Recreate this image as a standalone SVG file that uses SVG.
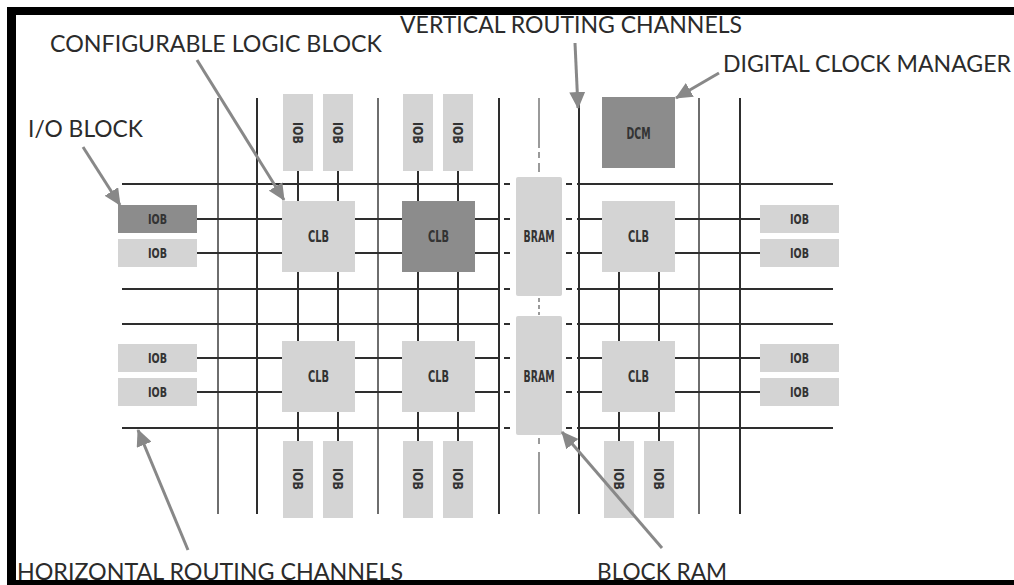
<svg xmlns="http://www.w3.org/2000/svg" width="1014" height="585" viewBox="0 0 1014 585">
<style>
.lbl{font-family:Lato,"Open Sans","Liberation Sans",sans-serif;font-size:23px;fill:#2b2b2b;}
.bt{font-family:"DejaVu Sans Condensed","DejaVu Sans","Liberation Sans",sans-serif;font-weight:bold;fill:#333;text-anchor:middle;}
.lt{fill:#d4d4d4;}
.dk{fill:#8c8c8c;}
.ln{stroke:#2e2e2e;stroke-width:2;fill:none;}
.lg{stroke:#6e6e6e;stroke-width:2;fill:none;}
.br{stroke:#9a9a9a;stroke-width:2;fill:none;}
.ar{stroke:#888;stroke-width:3;fill:none;marker-end:url(#ah);}
</style>
<defs>
<marker id="ah" markerUnits="userSpaceOnUse" markerWidth="18" markerHeight="16" refX="16" refY="8" orient="auto">
<path d="M0,0 L17,8 L0,16 Z" fill="#888"/>
</marker>
</defs>
<rect x="0" y="0" width="1014" height="585" fill="#fff"/>

<g id="connectors">
<line class="lg" x1="218" y1="98" x2="218" y2="514"/>
<line class="ln" x1="257" y1="98" x2="257" y2="514"/>
<line class="lg" x1="378" y1="98" x2="378" y2="514"/>
<line class="ln" x1="499" y1="98" x2="499" y2="514"/>
<line class="ln" x1="579" y1="98" x2="579" y2="514"/>
<line class="lg" x1="699" y1="98" x2="699" y2="514"/>
<line class="ln" x1="740" y1="98" x2="740" y2="514"/>
<path class="br" d="M539,98 V148 M539,152 V158 M539,163 V172 M539,298 V302 M539,305 V309 M539,312 V315 M539,438 V444 M539,452 V514"/>
<path class="ln" d="M122,184 H500 M577,184 H833 M122,289 H500 M577,289 H833 M122,324 H500 M577,324 H833 M122,428 H500 M577,428 H833"/>
<path class="ln" d="M197,219 H282 M355,219 H402 M475,219 H500 M577,219 H602 M675,219 H760
M197,253 H282 M355,253 H402 M475,253 H500 M577,253 H602 M675,253 H760
M197,358 H282 M355,358 H402 M475,358 H500 M577,358 H602 M675,358 H760
M197,392 H282 M355,392 H402 M475,392 H500 M577,392 H602 M675,392 H760"/>
<path class="ln" d="M504,184 H510 M566,184 H572 M504,219 H510 M566,219 H572 M504,253 H510 M566,253 H572 M504,289 H510 M566,289 H572 M504,324 H510 M566,324 H572 M504,358 H510 M566,358 H572 M504,392 H510 M566,392 H572 M504,428 H510 M566,428 H572"/>
<path class="ln" d="M298,171 V201 M338,171 V201 M418,171 V201 M458,171 V201
M298,272 V341 M338,272 V341 M418,272 V341 M458,272 V341 M619,272 V341 M659,272 V341
M298,412 V441 M338,412 V441 M418,412 V441 M458,412 V441 M619,412 V441 M659,412 V441"/>
</g>

<g id="iob-top-1"><rect class="lt" x="283" y="94" width="30" height="77"/><text class="bt" font-size="14" transform="translate(298,133) rotate(90)" y="5" textLength="22" lengthAdjust="spacingAndGlyphs">IOB</text></g>
<g id="iob-top-2"><rect class="lt" x="323" y="94" width="30" height="77"/><text class="bt" font-size="14" transform="translate(338,133) rotate(90)" y="5" textLength="22" lengthAdjust="spacingAndGlyphs">IOB</text></g>
<g id="iob-top-3"><rect class="lt" x="403" y="94" width="30" height="77"/><text class="bt" font-size="14" transform="translate(418,133) rotate(90)" y="5" textLength="22" lengthAdjust="spacingAndGlyphs">IOB</text></g>
<g id="iob-top-4"><rect class="lt" x="443" y="94" width="30" height="77"/><text class="bt" font-size="14" transform="translate(458,133) rotate(90)" y="5" textLength="22" lengthAdjust="spacingAndGlyphs">IOB</text></g>

<g id="iob-bot-1"><rect class="lt" x="283" y="441" width="30" height="77"/><text class="bt" font-size="14" transform="translate(298,479) rotate(90)" y="5" textLength="22" lengthAdjust="spacingAndGlyphs">IOB</text></g>
<g id="iob-bot-2"><rect class="lt" x="323" y="441" width="30" height="77"/><text class="bt" font-size="14" transform="translate(338,479) rotate(90)" y="5" textLength="22" lengthAdjust="spacingAndGlyphs">IOB</text></g>
<g id="iob-bot-3"><rect class="lt" x="403" y="441" width="30" height="77"/><text class="bt" font-size="14" transform="translate(418,479) rotate(90)" y="5" textLength="22" lengthAdjust="spacingAndGlyphs">IOB</text></g>
<g id="iob-bot-4"><rect class="lt" x="443" y="441" width="30" height="77"/><text class="bt" font-size="14" transform="translate(458,479) rotate(90)" y="5" textLength="22" lengthAdjust="spacingAndGlyphs">IOB</text></g>
<g id="iob-bot-5"><rect class="lt" x="604" y="441" width="30" height="77"/><text class="bt" font-size="14" transform="translate(619,479) rotate(90)" y="5" textLength="22" lengthAdjust="spacingAndGlyphs">IOB</text></g>
<g id="iob-bot-6"><rect class="lt" x="644" y="441" width="30" height="77"/><text class="bt" font-size="14" transform="translate(659,479) rotate(90)" y="5" textLength="22" lengthAdjust="spacingAndGlyphs">IOB</text></g>

<g id="iob-left-1"><rect class="dk" x="118" y="205" width="79" height="28"/><text class="bt" font-size="14" x="157.5" y="224" textLength="19" lengthAdjust="spacingAndGlyphs">IOB</text></g>
<g id="iob-left-2"><rect class="lt" x="118" y="239" width="79" height="28"/><text class="bt" font-size="14" x="157.5" y="258" textLength="19" lengthAdjust="spacingAndGlyphs">IOB</text></g>
<g id="iob-left-3"><rect class="lt" x="118" y="344" width="79" height="28"/><text class="bt" font-size="14" x="157.5" y="363" textLength="19" lengthAdjust="spacingAndGlyphs">IOB</text></g>
<g id="iob-left-4"><rect class="lt" x="118" y="378" width="79" height="28"/><text class="bt" font-size="14" x="157.5" y="397" textLength="19" lengthAdjust="spacingAndGlyphs">IOB</text></g>

<g id="iob-right-1"><rect class="lt" x="760" y="205" width="79" height="28"/><text class="bt" font-size="14" x="799.5" y="224" textLength="19" lengthAdjust="spacingAndGlyphs">IOB</text></g>
<g id="iob-right-2"><rect class="lt" x="760" y="239" width="79" height="28"/><text class="bt" font-size="14" x="799.5" y="258" textLength="19" lengthAdjust="spacingAndGlyphs">IOB</text></g>
<g id="iob-right-3"><rect class="lt" x="760" y="344" width="79" height="28"/><text class="bt" font-size="14" x="799.5" y="363" textLength="19" lengthAdjust="spacingAndGlyphs">IOB</text></g>
<g id="iob-right-4"><rect class="lt" x="760" y="378" width="79" height="28"/><text class="bt" font-size="14" x="799.5" y="397" textLength="19" lengthAdjust="spacingAndGlyphs">IOB</text></g>

<g id="clb-1"><rect class="lt" x="282" y="201" width="73" height="71"/><text class="bt" font-size="16" x="318.5" y="242" textLength="21" lengthAdjust="spacingAndGlyphs">CLB</text></g>
<g id="clb-2"><rect class="dk" x="402" y="201" width="73" height="71"/><text class="bt" font-size="16" x="438.5" y="242" textLength="21" lengthAdjust="spacingAndGlyphs">CLB</text></g>
<g id="clb-3"><rect class="lt" x="602" y="201" width="73" height="71"/><text class="bt" font-size="16" x="638.5" y="242" textLength="21" lengthAdjust="spacingAndGlyphs">CLB</text></g>
<g id="clb-4"><rect class="lt" x="282" y="341" width="73" height="71"/><text class="bt" font-size="16" x="318.5" y="382" textLength="21" lengthAdjust="spacingAndGlyphs">CLB</text></g>
<g id="clb-5"><rect class="lt" x="402" y="341" width="73" height="71"/><text class="bt" font-size="16" x="438.5" y="382" textLength="21" lengthAdjust="spacingAndGlyphs">CLB</text></g>
<g id="clb-6"><rect class="lt" x="602" y="341" width="73" height="71"/><text class="bt" font-size="16" x="638.5" y="382" textLength="21" lengthAdjust="spacingAndGlyphs">CLB</text></g>

<g id="bram-1"><rect class="lt" x="516" y="177" width="46" height="119" rx="2"/><text class="bt" font-size="15" x="539" y="242" textLength="31" lengthAdjust="spacingAndGlyphs">BRAM</text></g>
<g id="bram-2"><rect class="lt" x="516" y="316" width="46" height="119" rx="2"/><text class="bt" font-size="15" x="539" y="382" textLength="31" lengthAdjust="spacingAndGlyphs">BRAM</text></g>

<g id="dcm"><rect class="dk" x="602" y="97" width="73" height="71"/><text class="bt" font-size="15" x="638.5" y="139" textLength="24" lengthAdjust="spacingAndGlyphs">DCM</text></g>

<g id="labels">
<g id="label-clb"><text class="lbl" x="50" y="52" textLength="332" lengthAdjust="spacingAndGlyphs">CONFIGURABLE LOGIC BLOCK</text></g>
<g id="label-vrc"><text class="lbl" x="400" y="33" textLength="342" lengthAdjust="spacingAndGlyphs">VERTICAL ROUTING CHANNELS</text></g>
<g id="label-dcm"><text class="lbl" x="723" y="72" textLength="288" lengthAdjust="spacingAndGlyphs">DIGITAL CLOCK MANAGER</text></g>
<g id="label-io"><text class="lbl" x="28" y="137" textLength="115" lengthAdjust="spacingAndGlyphs">I/O BLOCK</text></g>
<g id="label-hrc"><text class="lbl" x="17" y="580" textLength="386" lengthAdjust="spacingAndGlyphs">HORIZONTAL ROUTING CHANNELS</text></g>
<g id="label-bram"><text class="lbl" x="597" y="580" textLength="130" lengthAdjust="spacingAndGlyphs">BLOCK RAM</text></g>
</g>

<g id="pointer-arrows">
<line class="ar" x1="197" y1="60" x2="284" y2="200"/>
<line class="ar" x1="83" y1="147" x2="120" y2="205"/>
<line class="ar" x1="575" y1="43" x2="578" y2="108"/>
<line class="ar" x1="719" y1="73" x2="676" y2="98"/>
<line class="ar" x1="188" y1="550" x2="138" y2="430"/>
<line class="ar" x1="662" y1="548" x2="562" y2="432"/>
</g>

<path d="M7,7 H1020 V590 H7 Z M16,15 V580 H1020 V15 Z" fill="#000" fill-rule="evenodd"/>
</svg>
